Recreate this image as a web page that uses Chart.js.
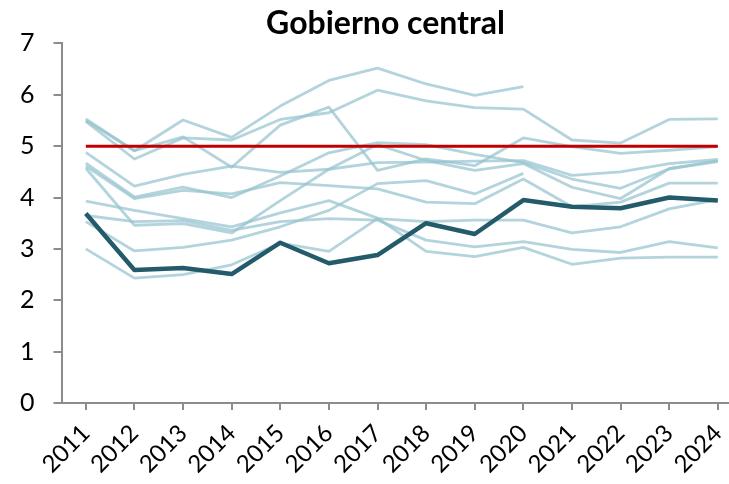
<!DOCTYPE html>
<html>
<head>
<meta charset="utf-8">
<script src="https://cdn.jsdelivr.net/npm/chart.js@4.4.1/dist/chart.umd.min.js"></script>
<style>
  html, body { margin: 0; padding: 0; background: #fff; overflow: hidden; }
  #wrap { width: 729px; height: 484px; }
</style>
</head>
<body>
<div id="wrap"><canvas id="chart" width="729" height="484"></canvas></div>
<script>
const years = [2011, 2012, 2013, 2014, 2015, 2016, 2017, 2018, 2019, 2020, 2021, 2022, 2023, 2024];
const yTicks = [0, 1, 2, 3, 4, 5, 6, 7];

// highlighted country (dark line)
const mainSeries = [3.69, 2.59, 2.63, 2.51, 3.12, 2.72, 2.88, 3.50, 3.29, 3.95, 3.82, 3.79, 4.00, 3.94];
// reference level (red line)
const refLevel = [5, 5, 5, 5, 5, 5, 5, 5, 5, 5, 5, 5, 5, 5];

// other countries (light lines)
const other1 = [5.53, 4.91, 5.51, 5.17, 5.78, 6.28, 6.52, 6.21, 5.99, 6.16, null, null, null, null];
const other2 = [5.48, 4.75, 5.16, 5.12, 5.52, 5.65, 6.09, 5.88, 5.75, 5.72, 5.12, 5.06, 5.52, 5.53];
const other3 = [5.50, 4.91, 5.18, 4.59, 5.41, 5.76, 4.53, 4.75, 4.62, 5.16, 4.99, 4.86, 4.92, 4.99];
const other4 = [4.88, 4.22, 4.45, 4.61, 4.49, 4.55, 4.68, 4.69, 4.71, 4.72, 4.43, 4.50, 4.66, 4.74];
const other5 = [4.67, 4.01, 4.20, 4.00, 4.42, 4.87, 5.07, 5.03, 4.84, 4.68, 4.36, 4.18, 4.56, 4.72];
const other6 = [4.61, 3.98, 4.14, 4.07, 4.29, 4.23, 4.17, 3.91, 3.88, 4.36, 3.82, 3.91, 4.28, 4.28];
const other7 = [4.57, 3.46, 3.49, 3.31, 3.94, 4.55, 5.03, 4.72, 4.53, 4.66, 4.20, 3.98, 4.56, 4.70];
const other8 = [3.93, 3.75, 3.59, 3.43, 3.70, 3.94, 3.60, 2.95, 2.85, 3.03, 2.70, 2.82, 2.84, 2.84];
const other9 = [3.65, 3.53, 3.55, 3.36, 3.53, 3.59, 3.56, 3.17, 3.04, 3.14, 2.99, 2.93, 3.14, 3.02];
const other10 = [3.00, 2.43, 2.50, 2.69, 3.11, 2.95, 3.59, 3.53, 3.56, 3.56, 3.31, 3.43, 3.78, 3.96];
const other11 = [3.53, 2.96, 3.03, 3.17, 3.43, 3.75, 4.27, 4.33, 4.07, 4.47, null, null, null, null];

const others = [other1, other2, other3, other4, other5, other6, other7, other8, other9, other10, other11];

function toPoints(vals) {
  return vals.map((v, i) => ({ x: years[i], y: v }));
}

const datasets = [];
datasets.push({
  data: toPoints(mainSeries),
  borderColor: '#245b6a',
  borderWidth: 4.5,
  order: 0
});
datasets.push({
  data: toPoints(refLevel),
  borderColor: '#c00000',
  borderWidth: 3,
  order: 1
});
others.forEach((s, i) => {
  datasets.push({
    data: toPoints(s),
    borderColor: 'rgba(150,195,206,0.72)',
    borderWidth: 2.8,
    order: 2 + i
  });
});

Chart.defaults.font.family = "Lato, 'Open Sans', sans-serif";
Chart.defaults.color = '#000';

const axisGray = '#8c8c8c';

// the title in the original is centred over the plot area, not the canvas
const shiftTitle = {
  id: 'shiftTitle',
  afterLayout(chart) {
    if (chart.titleBlock) chart.titleBlock.left = 42;
  }
};

new Chart(document.getElementById('chart').getContext('2d'), {
  type: 'line',
  data: { datasets: datasets },
  plugins: [shiftTitle],
  options: {
    responsive: false,
    animation: false,
    layout: { padding: 0 },
    elements: {
      point: { radius: 0, hoverRadius: 0 },
      line: { tension: 0, fill: false, borderCapStyle: 'butt', borderJoinStyle: 'round' }
    },
    plugins: {
      legend: { display: false },
      tooltip: { enabled: false },
      title: {
        display: true,
        text: 'Gobierno central',
        color: '#000',
        font: { size: 32, weight: 'bold' },
        padding: { top: 4, bottom: 1 }
      }
    },
    scales: {
      x: {
        type: 'linear',
        min: 2010.5,
        max: 2024.23,
        afterBuildTicks: (scale) => { scale.ticks = years.map(v => ({ value: v })); },
        afterFit: (scale) => {
          scale.height = 81;
          scale.paddingLeft = 0;
          scale.paddingRight = 0;
        },
        ticks: {
          minRotation: 45,
          maxRotation: 45,
          padding: 9,
          font: { size: 24 },
          callback: (v) => String(v)
        },
        grid: { drawOnChartArea: false, drawTicks: true, tickLength: 7, color: axisGray, lineWidth: 2 },
        border: { color: axisGray, width: 2 }
      },
      y: {
        min: 0,
        max: 7,
        afterBuildTicks: (scale) => { scale.ticks = yTicks.map(v => ({ value: v })); },
        afterFit: (scale) => { scale.width = 61.5; },
        ticks: { padding: 19, font: { size: 25 } },
        grid: { drawOnChartArea: false, drawTicks: true, tickLength: 8, color: axisGray, lineWidth: 2 },
        border: { color: axisGray, width: 2 }
      }
    }
  }
});
</script>
</body>
</html>
